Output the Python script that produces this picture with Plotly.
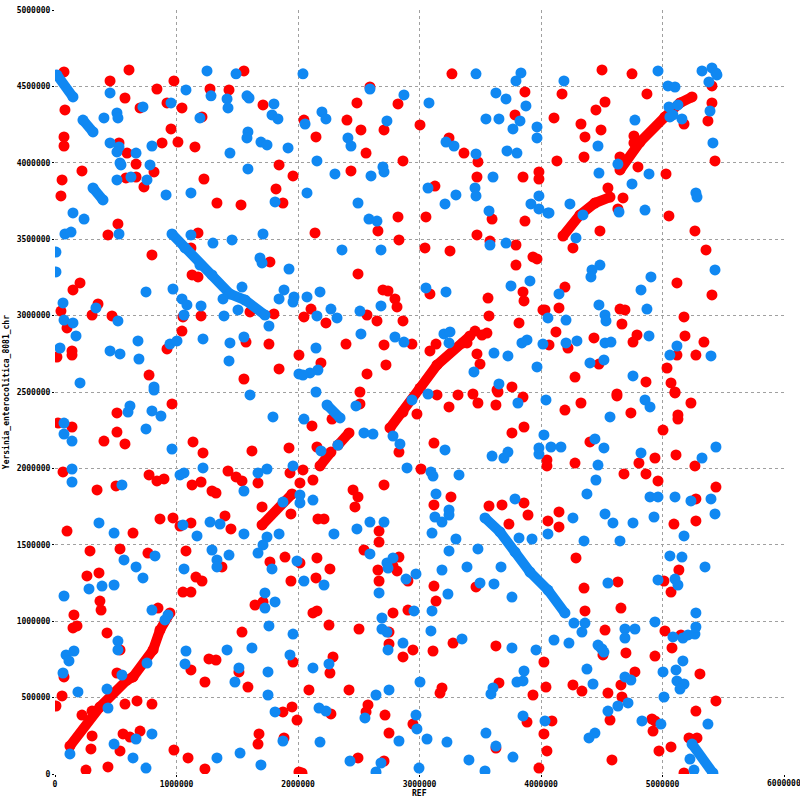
import plotly.graph_objects as go

# ---------------- data (positions in kb) ----------------
# isolated forward-strand matches (red)
red_ref_kb = [74,609,453,576,839,979,1555,1276,1432,1712,82,700,922,1045,1210,955,74,74,527,593,881,1012,1152,667,815,222,58,584,667,732,49,1226,1844,1959,1819,1876,1333,1531,518,436,1177,798,1119,1128,1177,1769,206,148,1605,1802,49,354,305,469,99,1053,1202,1045,922,16,140,140,1572,1761,2008,1844,1555,774,
3267,2592,2485,2823,3868,3786,2049,2403,2518,2708,3004,2148,2560,3243,3366,3481,2864,2436,3127,3473,3852,3983,3983,3597,3868,2823,3053,2658,2140,3473,3580,3794,2831,3045,3251,3934,3967,3794,2494,3852,3860,2699,2741,2798,2815,3086,3564,3572,4016,3819,2107,2049,2230,2568,2650,2864,2395,2708,2938,2189,2724,2568,2510,3086,3136,3391,3473,3498,3638,3761,
4502,4749,4173,4872,4527,4452,4107,4329,4494,4362,4131,4354,4650,4765,4765,4798,5029,4551,4675,4633,5053,5267,4485,4263,5358,5119,4197,5407,4650,4691,4148,4033,4666,5177,4123,4436,4790,4757,5185,5341,5119,5275,4222,4066,4477,4280,4864,5037,5070,5103,4625,5407,5407,5374,5432,5177,
963,510,25,140,510,403,576,1136,1218,1621,1926,66,774,839,897,346,502,1128,1202,1424,1490,1539,1292,1325,1671,1934,1704,1942,99,642,864,971,1119,1029,1399,1448,1769,1893,1942,288,535,765,1078,1374,1160,1210,263,362,1053,1119,1646,1712,370,379,156,848,148,181,428,535,1539,1267,1325,1119,1514,1959,1234,1588,74,510,58,8,576,675,798,222,305,560,617,700,305,296,535,255,436,979,1095,1234,1679,1671,1876,1951,1992,1885,2008,
2510,2115,2280,2156,2831,3119,2979,3144,3317,3440,3481,3243,3629,3646,3852,3761,3860,4049,4049,2041,2016,2123,3012,2453,2494,2469,2708,3259,3119,3572,3679,3860,3893,3736,4057,2164,2214,2667,2667,2543,2831,2782,2815,2156,2263,2016,2658,2905,2148,2667,3119,3136,3465,2123,2156,2782,2905,2255,2502,2749,3276,2749,2946,2864,3111,3629,4024,2288,2263,3654,3934,4041,3185,3169,2090,2420,2576,2560,2271,2716,2946,2749,3885,4024,3629,4049,2494,2708,3983,2033,
4625,5103,4329,4197,4740,5234,5127,5127,5004,4403,4280,4806,4938,5111,5267,4683,4864,4963,5275,5440,4148,4148,5094,5275,4288,5135,4633,5012,5070,4354,4362,4658,4527,5020,5152,5078,4510,4699,4938,5308,4773,4658,4263,4337,4551,4666,4568,5440,5275,4913,4938,4922,4090,4584,4971,5070,5218,5284,5177,
3457,3514,3555]
red_qry_kb = [4595,4608,4536,4424,4483,4536,4601,4483,4477,4379,4346,4359,4392,4359,4300,4222,4169,4110,4130,4064,4130,4136,4104,3992,3940,3947,3888,3901,3907,3842,3783,3894,3986,3914,3829,3737,3737,3724,3600,3528,3541,3397,3443,3266,3253,3351,3214,3168,3024,3011,3030,3076,3004,2998,2919,2991,2998,2899,2782,2729,2769,2742,2827,2814,2742,2651,2585,2611,
4582,4496,4392,4385,4464,4313,4280,4280,4215,4215,4248,4169,4064,4163,4064,4006,4012,3947,3848,3907,3907,3940,3894,3632,3619,3646,3646,3554,3541,3528,3488,3462,3495,3443,3423,3384,3371,3331,3273,3155,3096,3168,3161,3109,3057,3142,3115,2998,3037,2952,3043,2991,2952,3004,2965,2965,2814,2808,2814,2690,2677,2618,2500,2769,2814,2821,2749,2683,2513,2533,
4608,4582,4451,4451,4398,4346,4294,4254,4215,4169,4012,4038,4038,4176,4130,3973,3927,3835,3770,3698,3652,3554,3554,3443,3430,3214,3187,3135,3043,3037,3050,3037,2945,2991,2893,2854,2873,2827,2867,2827,2742,2742,2788,2808,2683,2598,2566,2657,2559,2500,2487,4503,4392,4274,4012,4254,
2422,2363,2297,2271,2238,2179,2160,2173,2101,2114,2134,1977,1957,1918,1931,1859,1885,1892,1911,1983,1944,1918,1852,1839,1905,1970,1748,1702,1590,1577,1669,1676,1643,1623,1689,1604,1388,1420,1263,1460,1473,1446,1460,1355,1289,1263,1296,1316,1191,1191,1106,1126,1132,1073,1041,1086,956,969,923,812,929,753,746,681,668,733,602,569,635,661,511,445,458,478,458,386,412,262,242,281,249,164,151,26,46,157,105,33,262,196,406,439,353,236,13,
2422,2278,2323,2140,2107,2166,2356,2481,2481,2487,2428,2402,2415,2500,2467,2232,2271,2055,2016,1990,1905,1924,1996,1859,1813,1748,1892,1813,1761,1754,1761,1774,1695,1636,1656,1669,1669,1590,1518,1466,1420,1361,1329,1414,1342,1381,1335,1263,1283,1263,1230,1132,1224,1054,1067,1054,1073,975,949,929,857,851,812,766,805,838,733,766,661,596,517,569,563,530,550,550,452,406,393,386,327,268,340,262,170,151,105,85,39,7,
2474,2494,2428,2382,2363,2428,2350,2323,2251,2173,2035,2035,2068,2088,2016,1964,1964,1918,1800,1878,1715,1617,1636,1656,1414,1335,1257,1263,1191,1217,1067,1086,942,936,910,825,779,792,772,655,668,583,583,543,530,504,353,478,412,360,347,281,347,92,151,177,236,236,7,
2899,2873,2886]

# isolated reverse-strand matches (blue)
blue_ref_kb = [453,1078,1251,1490,1284,1416,1424,1580,1597,1802,1786,1835,403,510,518,724,955,1193,1588,1580,453,527,510,667,798,1440,1695,1745,1918,535,543,782,510,625,757,914,1119,1588,1811,148,239,527,82,132,1119,1300,1457,1712,8,8,1687,1704,1926,749,971,1539,1383,1506,1761,1885,1844,1967,1959,66,337,518,74,148,173,1045,1086,1202,1062,1391,1218,946,1004,683,41,453,535,691,1440,1555,1432,206,815,1605,2008,
2041,3465,3835,3794,2592,2872,3078,3629,3712,3876,3827,3547,3654,3769,3967,3967,2197,2230,2058,2732,2411,2436,3218,3284,3465,3720,3802,2156,2304,2601,2699,2708,2074,3070,3605,3457,3465,3300,3210,2494,3983,3917,3983,4057,3572,2584,2650,3580,3712,2362,2683,3753,3909,2074,2181,2683,3053,3218,4057,2156,2271,2321,2510,2518,2798,2872,2148,2164,2099,2041,2148,3201,3251,3243,3448,3613,3728,3843,3885,4016,3967,3654,
4963,4189,4773,4469,4633,4477,4889,4749,4238,4066,4345,4642,4856,5275,5284,4288,5432,4485,4420,4411,4905,4823,4148,4477,4872,4206,4527,4535,4889,5119,5061,5399,4206,4296,4527,4576,4403,4518,4757,5325,5407,5440,5448,5382,5391,5415,5045,5103,5053,5127,5061,5160,5086,
815,617,601,798,872,74,74,140,749,963,1794,140,140,551,1029,1062,1218,1555,1671,1745,1959,1876,362,486,1053,1169,1276,1358,1555,1844,1745,1712,1671,1786,1992,823,568,667,724,1292,1432,1333,1333,1062,280,387,486,74,1728,1728,1811,798,930,905,518,518,1761,1959,1416,1621,1078,1070,1514,1753,1934,1481,1753,91,115,156,66,757,551,189,428,436,798,667,486,123,642,749,1333,1523,1695,1811,1876,
2049,2477,2189,2329,2543,2617,2782,2839,3210,3810,4041,4024,3597,3695,3728,3983,3983,2016,2016,2123,2897,3094,3111,3325,3136,3243,3243,3127,3185,3103,3786,3819,3926,4057,2296,2485,2592,2708,3300,3243,3481,2592,2732,2741,2782,2971,2889,3185,3391,3671,2049,2214,2667,3234,3498,3613,3761,2955,3103,2691,2691,2732,3094,3350,2741,2864,3761,3959,2255,2123,3860,3802,3852,3605,3588,3004,2642,2749,2551,2173,2230,2971,2979,2831,3062,3226,2181,3547,3852,4033,3629,3769,3407,2428,2683,2642,2996,3539,2938,3070,
4856,4897,4568,4444,4082,4164,4518,4469,4823,5325,5440,4452,4378,4897,4963,5103,5234,5399,4263,4527,4592,4757,4930,5432,5177,4354,4650,5061,5160,5350,4551,4963,5103,5127,5275,4271,4362,4337,4107,4230,4691,4773,4691,4938,5086,5168,5210,5267,5275,4378,5004,5111,5168,4691,4740,4428,5119,5177,5144,4633,4716,4551,5012,4831,4987,5374,4395,4444,5226,5259]
blue_qry_kb = [4457,4477,4601,4582,4438,4418,4359,4438,4424,4385,4313,4287,4294,4326,4294,4366,4392,4294,4202,4163,4130,4104,4071,4064,4110,4064,4136,4117,4097,3999,3986,3986,3888,3907,3888,3790,3803,3960,3744,3672,3632,3534,3534,3547,3528,3475,3495,3534,3416,3286,3377,3345,3305,3155,3174,3187,3109,3037,2932,3168,3109,3122,3089,3083,3050,2965,2971,2952,2867,3109,3070,3063,3004,2998,2847,2814,2834,2834,2788,2769,2749,2716,2821,2860,2703,2559,2533,2481,2618,
4582,4582,4588,4536,4483,4444,4392,4457,4418,4372,4274,4287,4287,4222,4235,4163,4333,4287,4254,4274,4163,4110,4136,4110,4058,4078,4064,4012,3927,3914,3973,3940,3803,3835,3907,3835,3783,3790,3731,3737,3783,3731,3698,3672,3685,3632,3619,3462,3475,3430,3430,3194,3227,3122,3155,3063,3181,3155,2985,2998,3043,2985,3030,2880,2860,2827,2788,2644,2625,2611,2500,2880,2893,2821,2631,2755,2736,2821,2841,2814,2664,2553,
4601,4536,4280,4110,3992,3933,3927,3862,3731,3672,3659,3678,3691,3803,3776,3508,3299,3331,3299,3253,3253,3168,3142,3070,3043,2971,3004,2965,2867,2801,2742,2736,2821,2834,2821,2827,2690,2710,2605,4601,4621,4588,4575,4529,4339,4130,4503,4496,4366,4379,4300,4287,4313,
2513,2409,2369,2376,2343,2297,2225,2179,2258,2127,2337,1996,1911,1892,1957,1970,2003,1852,1970,1996,2016,1780,1643,1577,1630,1558,1649,1636,1571,1571,1551,1499,1446,1342,1394,1427,1401,1355,1283,1466,1433,1401,1355,1342,1211,1230,1237,1165,1185,1086,1126,1073,1041,1008,870,812,969,916,812,825,805,720,694,668,779,602,517,779,740,805,661,726,648,537,556,432,262,229,196,131,105,39,105,137,59,406,216,
2323,2409,2114,2153,2232,2225,2212,2160,2121,2428,2448,2219,2081,2068,2107,2134,2094,1826,1774,1793,2003,1977,1950,1957,1833,1728,1695,1682,1649,1577,1800,1545,1538,1571,1571,1604,1649,1649,1538,1460,1473,1440,1381,1348,1414,1309,1276,1335,1355,1355,1263,1237,1185,1178,1250,1244,1158,1067,1067,1021,949,929,936,884,812,857,825,812,720,694,674,602,609,563,524,602,517,550,367,432,412,386,295,216,229,209,209,268,380,347,183,111,92,85,72,13,39,20,2448,2487,
2448,2402,2337,2193,2140,2140,2134,2022,2101,2068,2140,1924,1833,1813,1813,1813,1787,1800,1676,1702,1643,1643,1682,1702,1558,1525,1525,1427,1420,1355,1250,1270,1276,1237,1054,988,988,929,877,857,949,949,890,995,897,890,910,916,962,687,668,681,740,635,615,589,609,589,556,445,465,412,504,347,327,327,236,268,98,26]

# longer collinear runs (polylines through match end points)
fwd_runs_ref_kb = [[123, 370, 593, 642, 807, 864, 946],
                   [1704, 1951],
                   [2181, 2271],
                   [2329, 2420],
                   [2757, 2864, 3004, 3144, 3358, 3415],
                   [4181, 4321, 4444, 4568],
                   [4650, 4815, 5020, 5144, 5243]]
fwd_runs_qry_kb = [[183, 439, 615, 635, 812, 942, 1054],
                   [1630, 1833],
                   [2016, 2107],
                   [2153, 2232],
                   [2265, 2369, 2526, 2677, 2821, 2867],
                   [3521, 3659, 3737, 3776],
                   [3953, 4136, 4300, 4392, 4431]]
rev_runs_ref_kb = [[16, 148],
                   [230, 313],
                   [313, 395],
                   [963, 1070, 1193, 1292, 1440, 1564, 1728],
                   [3539, 3662, 3786, 3909, 4057, 4197],
                   [5243, 5415],
                   [2239, 2346],
                   [4469, 4502, 4518]]
rev_runs_qry_kb = [[4575, 4431],
                   [4280, 4202],
                   [3835, 3757],
                   [3534, 3443, 3331, 3266, 3142, 3102, 3004],
                   [1676, 1584, 1453, 1322, 1204, 1054],
                   [196, 7],
                   [2415, 2330],
                   [844, 818, 798]]

x_ticks = [0, 1000000, 2000000, 3000000, 4000000, 5000000, 6000000]
y_ticks = [0, 500000, 1000000, 1500000, 2000000, 2500000, 3000000, 3500000, 4000000, 4500000, 5000000]

RED = "#ff0000"
BLUE = "#1088f2"


def bp(values):
    return [v * 1000 for v in values]


def joined(runs):
    out = []
    for r in runs:
        out.extend(bp(r))
        out.append(None)
    return out


fig = go.Figure()

fig.add_trace(go.Scatter(x=joined(fwd_runs_ref_kb), y=joined(fwd_runs_qry_kb), mode="lines+markers",
                         line=dict(color=RED, width=10), marker=dict(color=RED, size=11, line=dict(width=0)),
                         hoverinfo="skip", showlegend=False))
fig.add_trace(go.Scatter(x=bp(red_ref_kb), y=bp(red_qry_kb), mode="markers",
                         marker=dict(color=RED, size=11, line=dict(width=0)), showlegend=False))
fig.add_trace(go.Scatter(x=joined(rev_runs_ref_kb), y=joined(rev_runs_qry_kb), mode="lines+markers",
                         line=dict(color=BLUE, width=10), marker=dict(color=BLUE, size=11, line=dict(width=0)),
                         hoverinfo="skip", showlegend=False))
fig.add_trace(go.Scatter(x=bp(blue_ref_kb), y=bp(blue_qry_kb), mode="markers",
                         marker=dict(color=BLUE, size=11, line=dict(width=0)), showlegend=False))

tickfont = dict(family="DejaVu Sans Mono", size=8, color="black", weight="bold")
gridstyle = dict(showgrid=True, gridcolor="#a0a0a0", gridwidth=1, griddash="3px,3px",
                 zeroline=False, showline=False, ticks="outside", ticklen=2, tickcolor="black",
                 tickfont=tickfont, tickformat="d", automargin=False)

# last x tick label is drawn separately (it runs past the right edge, as in the reference)
fig.update_xaxes(range=[0, 6000000], tickvals=x_ticks,
                 ticktext=[str(v) for v in x_ticks[:-1]] + [""], **gridstyle)
fig.update_yaxes(range=[0, 5000000], tickvals=y_ticks, ticktext=[str(v) for v in y_ticks], **gridstyle)

fig.add_annotation(text=str(x_ticks[-1]), xref="x", yref="paper", x=x_ticks[-1], y=-0.013,
                   xanchor="center", yanchor="middle", showarrow=False, font=tickfont)
fig.add_annotation(text="REF", xref="paper", yref="paper", x=0.5, y=-0.025, xanchor="center",
                   yanchor="middle", showarrow=False, font=tickfont)
fig.add_annotation(text="Yersinia_enterocolitica_8081_chr", xref="paper", yref="paper", x=-0.067, y=0.5,
                   xanchor="center", yanchor="middle", textangle=-90, showarrow=False, font=tickfont)

fig.update_layout(width=800, height=800, margin=dict(l=55, r=16, t=10, b=26),
                  plot_bgcolor="white", paper_bgcolor="white", showlegend=False)

fig.write_html("out.html", config={"displayModeBar": False},
               post_script="document.body.style.margin='0';document.body.style.overflow='hidden';")
